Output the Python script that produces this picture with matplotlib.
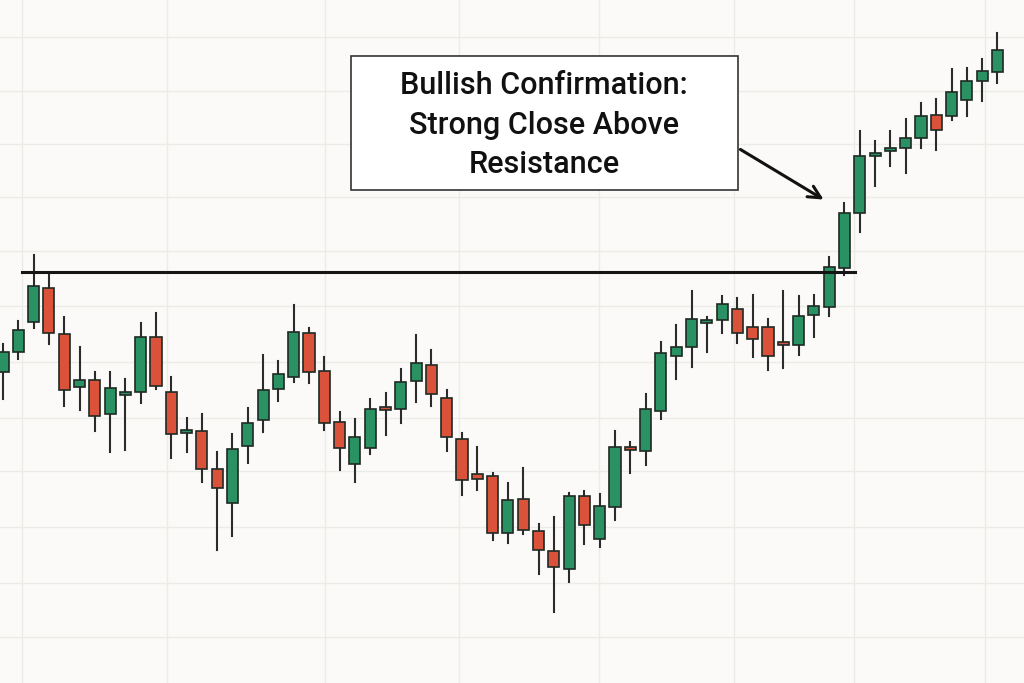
import matplotlib
matplotlib.use("Agg")
import matplotlib.pyplot as plt
from matplotlib.patches import Rectangle

# price values expressed on an inverted scale (higher number = lower price)
opens  = [372,352,322,288,334,387,380,414,394,392,337,392,433,431,469,503,446,420,389,377,333,371,422,464,448,407,409,381,365,398,439,474,476,533,499,531,551,569,496,539,507,447,451,411,356,347,322,320,309,327,327,342,345,315,307,268,213,156,151,148,138,115,116,100,81,72]
closes = [352,330,286,333,390,380,416,388,392,337,386,434,430,469,488,449,423,390,374,332,372,423,448,437,409,410,382,363,394,437,480,479,533,500,530,550,567,496,525,506,447,450,409,353,347,319,320,304,333,339,356,343,316,306,267,213,156,153,148,138,116,130,92,81,71,50]
highs  = [344,321,255,274,317,347,372,372,379,323,313,377,418,414,452,434,408,355,361,305,328,357,412,419,399,393,369,335,350,390,433,447,473,483,468,524,517,493,491,494,431,442,394,342,325,291,317,296,298,295,319,291,296,295,257,203,131,141,131,119,103,99,69,68,59,33]
lows   = [399,359,328,344,406,410,431,452,450,403,389,458,452,482,550,536,463,432,401,382,383,430,470,482,454,435,423,402,406,451,495,490,540,543,534,574,612,582,544,547,520,473,465,419,379,367,352,333,343,357,370,368,355,337,316,275,232,186,166,173,148,150,120,116,101,83]
resistance = 272
annotation = "Bullish Confirmation:\nStrong Close Above\nResistance"

green, red = "#2a9163", "#db523a"
bg = "#fbfaf8"

fig = plt.figure(figsize=(10.24, 6.83), dpi=100, facecolor=bg)
ax = fig.add_axes([0, 0, 1, 1], facecolor=bg)
step = 15.3
x0 = 3
ax.set_xlim(-x0 / step, (1024 - x0) / step)
ax.set_ylim(683, 0)

def px(xp):
    return (xp - x0) / step

for g in [22, 167, 325, 459, 599, 734, 854, 985]:
    ax.axvline(px(g), color="#ebebe8", lw=1, zorder=0)
for g in [37, 91, 144, 197, 251, 306, 362, 418, 471, 527, 583, 637]:
    ax.axhline(g, color="#ebebe8", lw=1, zorder=0)

w = 0.72
for i, (o, c, h, l) in enumerate(zip(opens, closes, highs, lows)):
    col = green if c <= o else red
    ax.plot([i, i], [l, h], color="#2b2b2b", lw=1.5, zorder=2)
    top, bot = min(o, c), max(o, c)
    hgt = max(bot - top, 2.5)
    ax.add_patch(Rectangle((i - w / 2, top), w, hgt, facecolor=col,
                           edgecolor="#1f2a24", lw=1.2, zorder=3))

ax.plot([px(22), px(855)], [resistance, resistance], color="#151515", lw=2.2, zorder=4)

ax.add_patch(Rectangle((px(351), 56), px(738) - px(351), 134, facecolor="white",
                       edgecolor="#333333", lw=1.2, zorder=5))
ax.text(px(544), 125, annotation, ha="center", va="center", fontsize=22,
        family="Roboto", fontweight="medium", color="#111111",
        linespacing=1.45, zorder=6)
ax.annotate("", xy=(px(826), 201), xytext=(px(738), 148),
            arrowprops=dict(arrowstyle="->", color="#111111", lw=2.2,
                            mutation_scale=22), zorder=6)
ax.axis("off")
fig.savefig("out.png", dpi=100, facecolor=bg)
